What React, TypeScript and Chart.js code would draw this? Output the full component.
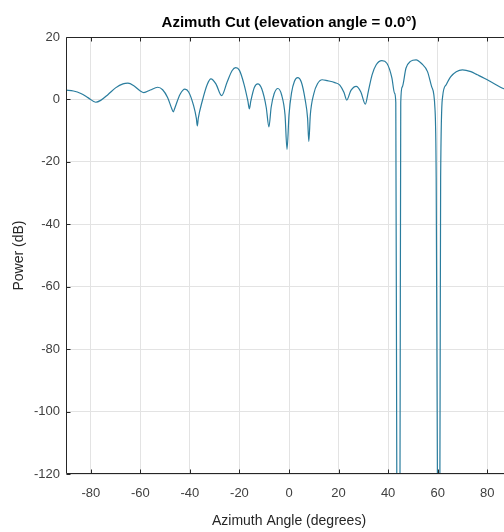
import React, { useEffect, useRef } from "react";
import { Chart, registerables } from "chart.js";

Chart.register(...registerables);

const ANGLES = [
  -90, -87, -84, -81, -78, -76, -73, -70, -67, -65, -62.5, -60, -58.6, -56, -53, -51, -49,
  -47.3, -46.7, -46.1, -44, -42, -40.5, -38.5, -37.4, -37.0, -36.6, -35, -33, -31.5, -29.5,
  -27.2, -25, -23, -21.5, -20, -18.2, -16.6, -16.0, -15.4, -14, -12.6, -11, -9.2, -8.1, -7.2,
  -6, -4.5, -3, -1.6, -0.8, 0.0, 1.0, 2.2, 3.5, 5.0, 6.5, 7.5, 8.0, 8.6, 10, 11.5, 13.4, 15.5,
  18.5, 20.5, 22.2, 23.3, 25, 27.1, 29, 30.8, 32, 33.5, 35.2, 37.5, 39.5, 41.5, 42.6, 43.1,
  43.5, 44.1, 44.8, 45.1, 45.7, 47.2, 49, 51.3, 53.5, 55.9, 57.6, 58.9, 59.4, 59.9, 60.4,
  60.9, 61.2, 62, 63.5, 65.3, 67.5, 70, 73.4, 76, 78.8, 82.5, 86.2, 90,
];

const POWER_DB = [
  3.0, 2.7, 1.9, 0.5, -0.9, -0.3, 1.6, 3.7, 5.0, 5.2, 4.3, 2.7, 2.2, 3.0, 3.9, 3.1, 0.6,
  -3.0, -4.0, -2.8, 1.6, 3.3, 2.4, -2.0, -6.0, -8.5, -6.0, -0.5, 4.8, 6.6, 5.0,
  1.2, 5.5, 9.2, 10.2, 9.3, 5.0, -0.5, -3.0, -0.5, 3.8, 5.0, 3.4, -2.5, -8.8, -2.5,
  1.8, 3.5, 1.5, -5, -16, -5, 2.0, 5.8, 7.0, 5.5, 0, -6, -13.5, -5, 1.8, 5.0, 6.3, 6.0,
  5.4, 4.6, 2.2, -0.2, 2.9, 4.2, 2.4, -1.5, 2.5, 7.8, 11.1, 12.4, 11.6, 7.0, 2.0, -1.0,
  -120, -170, -120, -1.0, 4.0, 10.0, 12.2, 12.7, 11.5, 8.9, 4.0, -2.8, -25, -120, -170,
  -120, -25, 0.9, 4.8, 7.3, 8.9, 9.5, 8.9, 7.9, 6.8, 5.2, 3.6, 2.5,
];

const X_TICKS = [-80, -60, -40, -20, 0, 20, 40, 60, 80];
const Y_TICKS = [-120, -100, -80, -60, -40, -20, 0, 20];

const TITLE = "Azimuth Cut (elevation angle = 0.0°)";
const X_LABEL = "Azimuth Angle (degrees)";
const Y_LABEL = "Power (dB)";

const FONT = "'Liberation Sans', Arial, Helvetica, sans-serif";
const AXIS_COLOR = "#262626";

const axesBoxPlugin = {
  id: "axesBox",
  afterDatasetsDraw(chart: any) {
    const { ctx, chartArea: a, scales } = chart;
    const x = scales.x;
    const y = scales.y;
    const L = Math.round(a.left) + 0.5;
    const R = Math.round(a.right) - 0.5;
    const T = Math.round(a.top) + 0.5;
    const B = Math.round(a.bottom) - 0.5;
    ctx.save();
    ctx.strokeStyle = AXIS_COLOR;
    ctx.lineWidth = 1;
    ctx.beginPath();
    ctx.moveTo(L, T);
    ctx.lineTo(R, T);
    ctx.lineTo(R, B);
    ctx.lineTo(L, B);
    ctx.closePath();
    ctx.stroke();
    const len = 4;
    ctx.beginPath();
    for (const v of X_TICKS) {
      const px = Math.round(x.getPixelForValue(v)) + 0.5;
      ctx.moveTo(px, B);
      ctx.lineTo(px, B - len);
      ctx.moveTo(px, T);
      ctx.lineTo(px, T + len);
    }
    for (const v of Y_TICKS) {
      const py = Math.round(y.getPixelForValue(v)) + 0.5;
      ctx.moveTo(L, py);
      ctx.lineTo(L + len, py);
      ctx.moveTo(R, py);
      ctx.lineTo(R - len, py);
    }
    ctx.stroke();
    ctx.restore();
  },
};

export default function App() {
  const ref = useRef<HTMLCanvasElement | null>(null);

  useEffect(() => {
    if (!ref.current) return;
    const points = ANGLES.map((a, i) => ({ x: a, y: POWER_DB[i] }));
    const chart = new Chart(ref.current, {
      type: "line",
      data: {
        datasets: [
          {
            data: points,
            borderColor: "#2a7d9e",
            borderWidth: 1.2,
            pointRadius: 0,
            fill: false,
            cubicInterpolationMode: "monotone",
            clip: 0,
          } as any,
        ],
      },
      options: {
        animation: false,
        responsive: false,
        layout: { padding: { left: 0, right: 0, top: 0, bottom: 0 } },
        plugins: {
          legend: { display: false },
          tooltip: { enabled: false },
          title: {
            display: true,
            text: TITLE,
            fullSize: false,
            color: "#000000",
            font: { family: FONT, size: 15, weight: "bold" },
            padding: { top: 14, bottom: 5 },
          },
        },
        scales: {
          x: {
            type: "linear",
            min: -90,
            max: 90,
            afterBuildTicks: (s: any) => {
              s.ticks = X_TICKS.map((v) => ({ value: v }));
            },
            afterFit: (s: any) => {
              s.height = 58;
            },
            grid: { color: "#e3e3e3", drawTicks: false, lineWidth: 1 },
            border: { display: false },
            ticks: {
              color: "#404040",
              padding: 12,
              font: { family: FONT, size: 13 },
              maxRotation: 0,
            },
            title: {
              display: true,
              text: X_LABEL,
              color: AXIS_COLOR,
              font: { family: FONT, size: 14 },
              padding: { top: 0, bottom: 2 },
            },
          },
          y: {
            type: "linear",
            min: -120,
            max: 20,
            afterBuildTicks: (s: any) => {
              s.ticks = Y_TICKS.map((v) => ({ value: v }));
            },
            afterFit: (s: any) => {
              s.width = 66;
            },
            grid: { color: "#e3e3e3", drawTicks: false, lineWidth: 1 },
            border: { display: false },
            ticks: {
              color: "#404040",
              padding: 6,
              font: { family: FONT, size: 13 },
            },
            title: {
              display: true,
              text: Y_LABEL,
              color: AXIS_COLOR,
              font: { family: FONT, size: 14 },
              padding: { top: 11, bottom: 0 },
            },
          },
        },
      },
      plugins: [axesBoxPlugin],
    });
    return () => chart.destroy();
  }, []);

  return (
    <div
      style={{
        position: "fixed",
        left: 0,
        top: 0,
        width: 512,
        height: 532,
        background: "#ffffff",
      }}
    >
      <canvas ref={ref} width={512} height={532} style={{ display: "block" }} />
    </div>
  );
}
